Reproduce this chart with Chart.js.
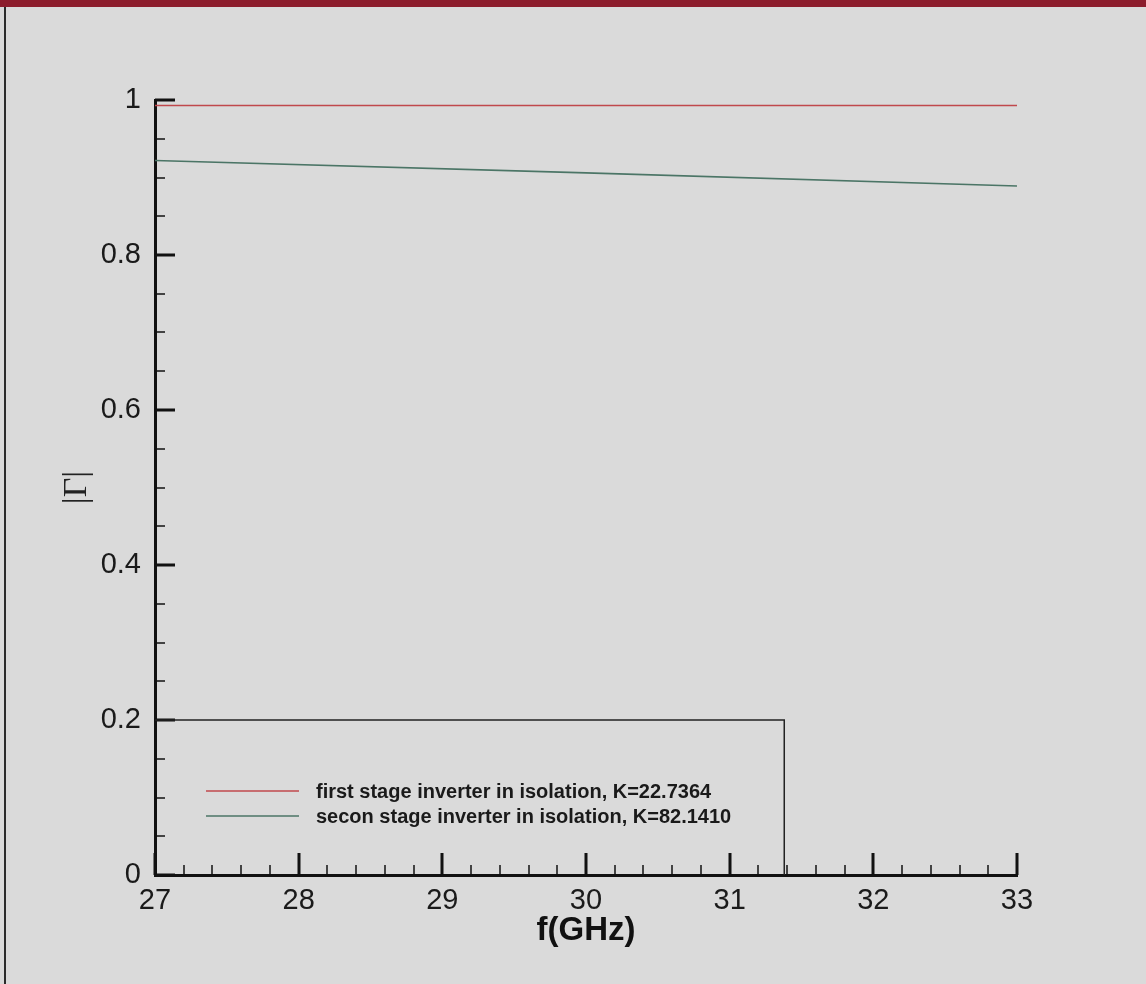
<!DOCTYPE html>
<html>
<head>
<meta charset="utf-8">
<title>|Γ| vs f(GHz)</title>
<script src="https://cdn.jsdelivr.net/npm/chart.js@4.4.1/dist/chart.umd.min.js"></script>
<style>
    html, body { margin: 0; padding: 0; }
    body { width: 1146px; height: 984px; background: #dadada; position: relative; overflow: hidden; }
    #topBand { position: absolute; left: 0; top: 0; width: 1146px; height: 7px; background: #8c1c2c; }
    #leftRule { position: absolute; left: 4px; top: 7px; width: 2px; height: 977px; background: #2b2b2b; }
    #plot { position: absolute; left: 0; top: 0; }
</style>
</head>
<body>
<div id="topBand"></div>
<div id="leftRule"></div>
<canvas id="plot" width="1146" height="984"></canvas>

<script>
// ================= DATA =================
const freqGHz = [27, 30, 33];
const firstStage = [0.993, 0.993, 0.993];
const secondStage = [0.922, 0.906, 0.889];

const seriesLabels = [
    "first stage inverter in isolation, K=22.7364",
    "secon stage inverter in isolation, K=82.1410"
];
const seriesColors = ["#c0484c", "#4b7566"];

const xTicks = { min: 27, max: 33, major: 1, minor: 0.2 };
const yTicks = { min: 0, max: 1, major: 0.2, minor: 0.05 };


// ================= PLUGINS =================
// inward tick marks, Tecplot style
const inwardTicks = {
    id: "inwardTicks",
    afterDraw(chart) {
        const ctx = chart.ctx;
        const xs = chart.scales.x;
        const ys = chart.scales.y;
        const area = chart.chartArea;
        ctx.save();
        ctx.strokeStyle = "#111";

        let n = Math.round((xTicks.max - xTicks.min) / xTicks.minor);
        for (let i = 0; i <= n; i++) {
            const v = xTicks.min + i * xTicks.minor;
            const isMajor = i % Math.round(xTicks.major / xTicks.minor) === 0;
            const px = Math.round(xs.getPixelForValue(v));
            ctx.lineWidth = isMajor ? 3 : 1.5;
            ctx.beginPath();
            ctx.moveTo(px, area.bottom);
            ctx.lineTo(px, area.bottom - (isMajor ? 22 : 10));
            ctx.stroke();
        }

        n = Math.round((yTicks.max - yTicks.min) / yTicks.minor);
        for (let i = 0; i <= n; i++) {
            const v = yTicks.min + i * yTicks.minor;
            const isMajor = i % Math.round(yTicks.major / yTicks.minor) === 0;
            const py = Math.round(ys.getPixelForValue(v));
            ctx.lineWidth = isMajor ? 3 : 1.5;
            ctx.beginPath();
            ctx.moveTo(area.left, py);
            ctx.lineTo(area.left + (isMajor ? 20 : 10), py);
            ctx.stroke();
        }
        ctx.restore();
    }
};

// boxed legend in the lower left corner
const boxLegend = {
    id: "boxLegend",
    afterDraw(chart) {
        const ctx = chart.ctx;
        const xs = chart.scales.x;
        const ys = chart.scales.y;
        const left = chart.chartArea.left;
        const bottom = chart.chartArea.bottom;
        const right = xs.getPixelForValue(31.38);
        const top = ys.getPixelForValue(0.2);

        ctx.save();
        ctx.strokeStyle = "#222";
        ctx.lineWidth = 1.5;
        ctx.beginPath();
        ctx.moveTo(left, top);
        ctx.lineTo(right, top);
        ctx.lineTo(right, bottom);
        ctx.stroke();

        ctx.font = "bold 20px 'Liberation Sans', Arial, sans-serif";
        ctx.textBaseline = "middle";
        ctx.fillStyle = "#1a1a1a";
        chart.data.datasets.forEach((ds, i) => {
            const y = 791 + i * 25;
            ctx.strokeStyle = ds.borderColor;
            ctx.lineWidth = 1.5;
            ctx.beginPath();
            ctx.moveTo(206, y);
            ctx.lineTo(299, y);
            ctx.stroke();
            ctx.fillText(ds.label, 316, y + 1);
        });
        ctx.restore();
    }
};


// ================= CHART =================
const tickFont = { family: "'Liberation Sans', Arial, sans-serif", size: 29 };

new Chart(document.getElementById("plot"), {
    type: "line",
    data: {
        datasets: [
            {
                label: seriesLabels[0],
                data: freqGHz.map((f, i) => ({ x: f, y: firstStage[i] })),
                borderColor: seriesColors[0],
                borderWidth: 1.6,
                pointRadius: 0,
                tension: 0
            },
            {
                label: seriesLabels[1],
                data: freqGHz.map((f, i) => ({ x: f, y: secondStage[i] })),
                borderColor: seriesColors[1],
                borderWidth: 1.6,
                pointRadius: 0,
                tension: 0
            }
        ]
    },
    options: {
        responsive: false,
        animation: false,
        layout: { padding: { top: 100, right: 129, bottom: 0, left: 0 } },
        plugins: {
            legend: { display: false },
            tooltip: { enabled: false }
        },
        scales: {
            x: {
                type: "linear",
                min: xTicks.min,
                max: xTicks.max,
                afterFit: s => { s.height = 109; },
                grid: { display: false, drawTicks: false },
                border: { display: true, color: "#111", width: 3 },
                ticks: {
                    stepSize: xTicks.major,
                    color: "#1a1a1a",
                    font: tickFont,
                    padding: 9,
                    maxRotation: 0
                },
                title: {
                    display: true,
                    text: "f(GHz)",
                    color: "#111",
                    font: { family: "'Liberation Sans', Arial, sans-serif", size: 33, weight: "bold" },
                    padding: { top: 0, bottom: 33 }
                }
            },
            y: {
                type: "linear",
                min: yTicks.min,
                max: yTicks.max,
                afterFit: s => { s.width = 155; },
                grid: { display: false, drawTicks: false },
                border: { display: true, color: "#111", width: 3 },
                ticks: {
                    stepSize: yTicks.major,
                    color: "#1a1a1a",
                    font: tickFont,
                    padding: 14,
                    callback: v => String(+v.toFixed(1))
                },
                title: {
                    display: true,
                    text: "|Γ|",
                    color: "#222",
                    font: { family: "'Liberation Serif', 'DejaVu Serif', serif", size: 34 },
                    padding: { top: 57, bottom: 0 }
                }
            }
        }
    },
    plugins: [inwardTicks, boxLegend]
});
</script>
</body>
</html>
